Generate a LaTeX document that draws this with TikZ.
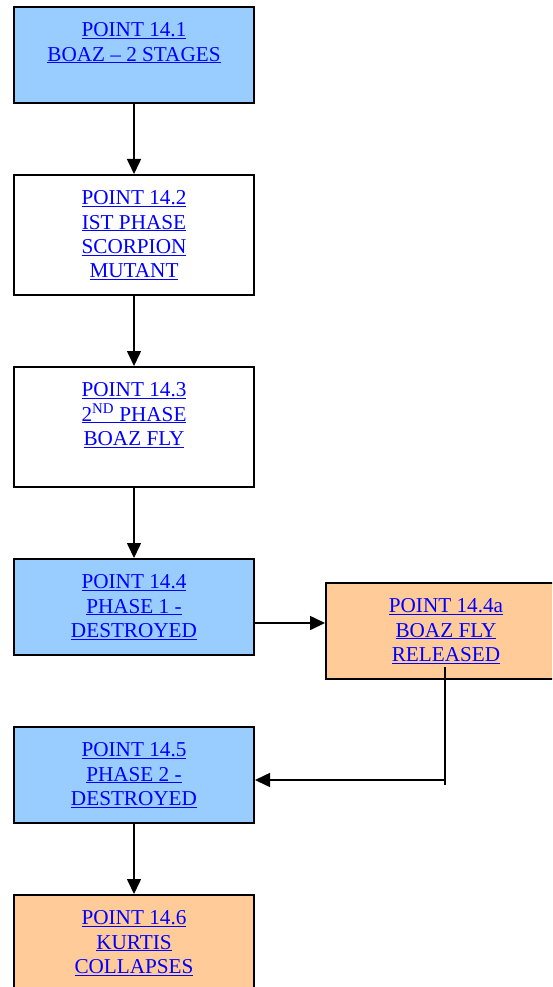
\documentclass[tikz,border=0pt]{standalone}
\usepackage{fontspec}
\setmainfont{Liberation Serif}
\usetikzlibrary{arrows.meta}
\definecolor{lblue}{RGB}{153,204,255}
\definecolor{lorange}{RGB}{255,204,153}
\definecolor{lnk}{RGB}{0,0,255}
\newcommand{\lk}[1]{\underline{#1}}
\begin{document}
\begin{tikzpicture}[x=1pt,y=-1pt,
 box/.style={draw=black,line width=2pt,minimum width=240pt,inner sep=0pt,anchor=north west},
 lbl/.style={anchor=north,inner sep=0pt,align=center,text=lnk,font=\fontsize{21.2}{24.3}\selectfont},
 arr/.style={line width=1.6pt,-{Triangle[width=14pt,length=15pt]}},
 ln/.style={line width=1.6pt}]
\useasboundingbox (0,0) rectangle (552,987);
\clip (0,0) rectangle (552,987);
\node[box,fill=lblue,minimum height=96pt] (b1) at (13,6) {};
\node[box,fill=white,minimum height=120pt] (b2) at (13,174) {};
\node[box,fill=white,minimum height=120pt] (b3) at (13,366) {};
\node[box,fill=lblue,minimum height=96pt] (b4) at (13,558) {};
\node[box,fill=lorange,minimum height=96pt] (b4a) at (325,582) {};
\node[box,fill=lblue,minimum height=96pt] (b5) at (13,726) {};
\node[box,fill=lorange,minimum height=96pt] (b6) at (13,894) {};
\node[lbl] (t1) at ([yshift=-16.5pt]b1.north) {\lk{POINT 14.1}\\\lk{BOAZ – 2 STAGES}};
\node[lbl] (t2) at ([yshift=-16.5pt]b2.north) {\lk{POINT 14.2}\\\lk{IST PHASE}\\\lk{SCORPION}\\\lk{MUTANT}};
\node[lbl] (t3) at ([yshift=-16.5pt]b3.north) {\lk{POINT 14.3}\\\lk{2\textsuperscript{ND} PHASE}\\\lk{BOAZ FLY}};
\node[lbl] (t4) at ([yshift=-16.5pt]b4.north) {\lk{POINT 14.4}\\\lk{PHASE 1 -}\\\lk{DESTROYED}};
\node[lbl] (t4a) at ([yshift=-16.5pt]b4a.north) {\lk{POINT 14.4a}\\\lk{BOAZ FLY}\\\lk{RELEASED}};
\node[lbl] (t5) at ([yshift=-16.5pt]b5.north) {\lk{POINT 14.5}\\\lk{PHASE 2 -}\\\lk{DESTROYED}};
\node[lbl] (t6) at ([yshift=-16.5pt]b6.north) {\lk{POINT 14.6}\\\lk{KURTIS}\\\lk{COLLAPSES}};
\draw[arr] (b1.south) -- (b2.north);
\draw[arr] (b2.south) -- (b3.north);
\draw[arr] (b3.south) -- (b4.north);
\coordinate (c1) at (253,623);
\draw[arr] (c1) -- (c1 -| b4a.west);
\coordinate (d1) at (445,667);
\coordinate (d2) at (445,785);
\coordinate (d3) at (445,780);
\draw[ln] (d1) -- (d2);
\draw[arr] (d3) -- (d3 -| b5.east);
\draw[arr] (b5.south) -- (b6.north);
\end{tikzpicture}
\end{document}
